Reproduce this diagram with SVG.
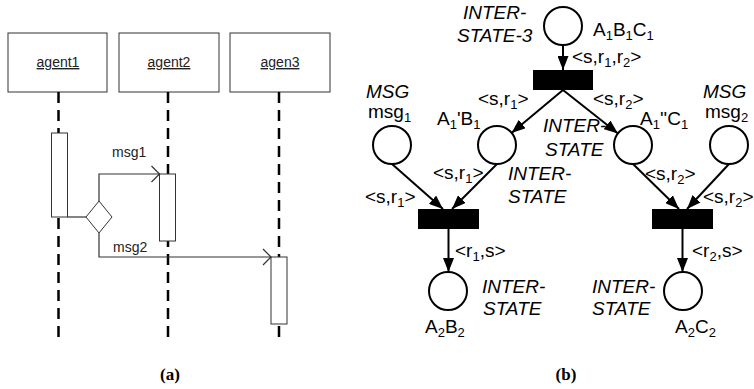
<svg xmlns="http://www.w3.org/2000/svg" width="754" height="389" viewBox="0 0 754 389">
<defs>
<style>
.box{fill:#fff;stroke:#333;stroke-width:1}
.life{stroke:#000;stroke-width:2.5;stroke-dasharray:11 7;fill:none}
.conn{stroke:#333;stroke-width:1.2;fill:none}
.lbl{font-family:"Liberation Sans",Arial,sans-serif;font-size:14px;fill:#222}
.pl{fill:#fff;stroke:#000;stroke-width:2}
.tr{fill:#000}
.arc{stroke:#000;stroke-width:2;fill:none}
.t{font-family:"Liberation Sans",Arial,sans-serif;font-size:19px;fill:#000}
.i{font-style:italic}
.cap{font-family:"Liberation Serif","Times New Roman",serif;font-size:17px;font-weight:bold;fill:#000;text-anchor:middle}
</style>
<marker id="ah" viewBox="0 0 14 11" refX="14" refY="5.5" markerWidth="14" markerHeight="11" markerUnits="userSpaceOnUse" orient="auto">
<path d="M0,0 L14,5.5 L0,11 Z" fill="#000"/>
</marker>
<marker id="oa" viewBox="0 0 10 18" refX="9" refY="9" markerWidth="10" markerHeight="18" markerUnits="userSpaceOnUse" orient="auto">
<path d="M1,1 L9,9 L1,17" fill="none" stroke="#333" stroke-width="1.2"/>
</marker>
</defs>

<!-- (a) sequence diagram -->
<g id="agent1">
<rect class="box" x="8" y="33" width="99" height="59"/>
<text class="lbl" x="58" y="67" text-anchor="middle" text-decoration="underline">agent1</text>
<line class="life" x1="58.5" y1="92" x2="58.5" y2="343"/>
<rect class="box" x="51.5" y="133" width="16" height="84"/>
</g>
<g id="agent2">
<rect class="box" x="119" y="33" width="100" height="59"/>
<text class="lbl" x="169" y="67" text-anchor="middle" text-decoration="underline">agent2</text>
<line class="life" x1="168" y1="92" x2="168" y2="343"/>
<rect class="box" x="159.5" y="174" width="16" height="67"/>
</g>
<g id="agen3">
<rect class="box" x="230" y="33" width="100" height="59"/>
<text class="lbl" x="280" y="67" text-anchor="middle" text-decoration="underline">agen3</text>
<line class="life" x1="279" y1="92" x2="279" y2="343"/>
<rect class="box" x="271" y="257" width="16" height="67"/>
</g>
<g id="branch">
<polygon class="box" points="99,201 112,217 99,233 86,217"/>
</g>
<g id="connectors-a">
<line class="conn" x1="67.5" y1="217" x2="86" y2="217"/>
<polyline class="conn" points="99,201 99,174 159.5,174" marker-end="url(#oa)"/>
<polyline class="conn" points="99,233 99,257 271,257" marker-end="url(#oa)"/>
<text class="lbl" x="112" y="157">msg1</text>
<text class="lbl" x="113" y="252">msg2</text>
</g>

<!-- (b) Petri net -->
<g id="p0">
<circle class="pl" cx="563" cy="26" r="19"/>
<text class="t i" x="463" y="19">INTER-</text>
<text class="t i" x="457" y="42">STATE-3</text>
<text class="t" x="593" y="36">A<tspan font-size="13" dy="4">1</tspan><tspan dy="-4">B</tspan><tspan font-size="13" dy="4">1</tspan><tspan dy="-4">C</tspan><tspan font-size="13" dy="4">1</tspan></text>
</g>
<g id="t0"><rect class="tr" x="533" y="70" width="60" height="20"/></g>
<g id="pmsg1">
<circle class="pl" cx="392" cy="145" r="19"/>
<text class="t i" x="366" y="98">MSG</text>
<text class="t" x="368" y="118">msg<tspan font-size="13" dy="4">1</tspan></text>
</g>
<g id="pA1B1">
<circle class="pl" cx="497" cy="145" r="19"/>
<text class="t" x="437" y="125">A<tspan font-size="13" dy="4">1</tspan><tspan dy="-4">'B</tspan><tspan font-size="13" dy="4">1</tspan></text>
<text class="t i" x="508" y="180">INTER-</text>
<text class="t i" x="508" y="203">STATE</text>
</g>
<g id="pA1C1">
<circle class="pl" cx="633" cy="145" r="19"/>
<text class="t" x="640" y="125">A<tspan font-size="13" dy="4">1</tspan><tspan dy="-4">''C</tspan><tspan font-size="13" dy="4">1</tspan></text>
<text class="t i" x="543" y="132">INTER-</text>
<text class="t i" x="545" y="156">STATE</text>
</g>
<g id="pmsg2">
<circle class="pl" cx="729" cy="145" r="19"/>
<text class="t i" x="703" y="98">MSG</text>
<text class="t" x="705" y="118">msg<tspan font-size="13" dy="4">2</tspan></text>
</g>
<g id="t1"><rect class="tr" x="418" y="209" width="61" height="20"/></g>
<g id="t2"><rect class="tr" x="652" y="209" width="61" height="20"/></g>
<g id="pA2B2">
<circle class="pl" cx="448" cy="291" r="19"/>
<text class="t i" x="482" y="293">INTER-</text>
<text class="t i" x="483" y="315">STATE</text>
<text class="t" x="425" y="333">A<tspan font-size="13" dy="4">2</tspan><tspan dy="-4">B</tspan><tspan font-size="13" dy="4">2</tspan></text>
</g>
<g id="pA2C2">
<circle class="pl" cx="683" cy="291" r="19"/>
<text class="t i" x="592" y="293">INTER-</text>
<text class="t i" x="592" y="315">STATE</text>
<text class="t" x="675" y="333">A<tspan font-size="13" dy="4">2</tspan><tspan dy="-4">C</tspan><tspan font-size="13" dy="4">2</tspan></text>
</g>

<g id="connectors-b">
<line class="arc" x1="563" y1="45" x2="563" y2="70" marker-end="url(#ah)"/>
<line class="arc" x1="563" y1="90" x2="511.5" y2="133" marker-end="url(#ah)"/>
<line class="arc" x1="563" y1="90" x2="618" y2="133.5" marker-end="url(#ah)"/>
<line class="arc" x1="392" y1="164" x2="443" y2="209" marker-end="url(#ah)"/>
<line class="arc" x1="497" y1="164" x2="452" y2="209" marker-end="url(#ah)"/>
<line class="arc" x1="633" y1="164" x2="679" y2="209" marker-end="url(#ah)"/>
<line class="arc" x1="729" y1="164" x2="687" y2="209" marker-end="url(#ah)"/>
<line class="arc" x1="448.5" y1="229" x2="448.5" y2="272" marker-end="url(#ah)"/>
<line class="arc" x1="682.5" y1="229" x2="682.5" y2="272" marker-end="url(#ah)"/>
<text class="t" x="572" y="63">&lt;s,r<tspan font-size="13" dy="4">1</tspan><tspan dy="-4">,r</tspan><tspan font-size="13" dy="4">2</tspan><tspan dy="-4">&gt;</tspan></text>
<text class="t" x="478" y="105">&lt;s,r<tspan font-size="13" dy="4">1</tspan><tspan dy="-4">&gt;</tspan></text>
<text class="t" x="593" y="105">&lt;s,r<tspan font-size="13" dy="4">2</tspan><tspan dy="-4">&gt;</tspan></text>
<text class="t" x="433" y="179">&lt;s,r<tspan font-size="13" dy="4">1</tspan><tspan dy="-4">&gt;</tspan></text>
<text class="t" x="365" y="203">&lt;s,r<tspan font-size="13" dy="4">1</tspan><tspan dy="-4">&gt;</tspan></text>
<text class="t" x="645" y="180">&lt;s,r<tspan font-size="13" dy="4">2</tspan><tspan dy="-4">&gt;</tspan></text>
<text class="t" x="703" y="203">&lt;s,r<tspan font-size="13" dy="4">2</tspan><tspan dy="-4">&gt;</tspan></text>
<text class="t" x="455" y="257">&lt;r<tspan font-size="13" dy="4">1</tspan><tspan dy="-4">,s&gt;</tspan></text>
<text class="t" x="692" y="257">&lt;r<tspan font-size="13" dy="4">2</tspan><tspan dy="-4">,s&gt;</tspan></text>
</g>

<text class="cap" x="170" y="380">(a)</text>
<text class="cap" x="566" y="380">(b)</text>
</svg>
